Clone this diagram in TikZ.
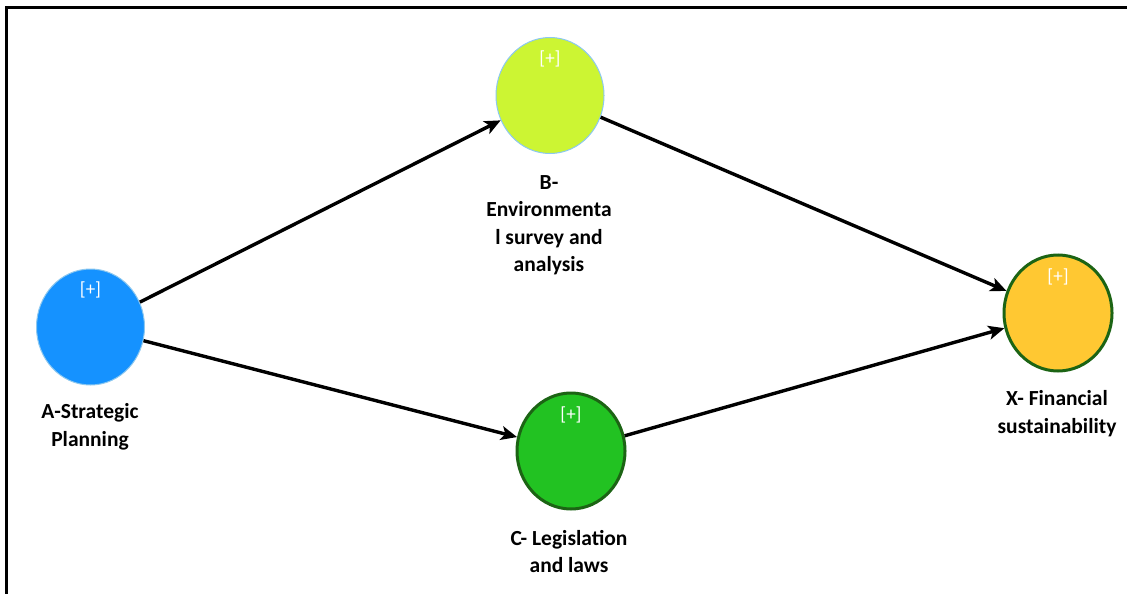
\documentclass[tikz,border=0pt]{standalone}
\usepackage{fontspec}
\setmainfont{Carlito}
\usetikzlibrary{shapes.geometric,arrows.meta}
\definecolor{cA}{RGB}{21,146,255}
\definecolor{cB}{RGB}{204,245,51}
\definecolor{cC}{RGB}{34,194,34}
\definecolor{cX}{RGB}{255,200,50}
\definecolor{edgeLight}{RGB}{140,200,240}
\definecolor{edgeDark}{RGB}{28,100,20}
\begin{document}
\begin{tikzpicture}[x=1pt,y=-1pt,
  latent/.style={ellipse, minimum width=108pt, minimum height=116pt, inner sep=0pt},
  lightedge/.style={draw=edgeLight, line width=1pt},
  darkedge/.style={draw=edgeDark, line width=3pt},
  plus/.style={text=white, font=\fontsize{19}{21}\selectfont},
  lbl/.style={align=center, font=\bfseries\fontsize{21.5}{27.5}\selectfont},
  conn/.style={line width=3.4pt, -{Stealth[length=16pt,width=14pt,inset=4pt]}}]
\useasboundingbox (0,0) rectangle (1127,594);
\fill[white] (0,0) rectangle (1127,594);
\draw[line width=2.5pt] (6.5,594) -- (6.5,7.5) -- (1130,7.5);
% nodes
\node[latent, lightedge, fill=cA] (A) at (90.5,327) {};
\node[latent, lightedge, fill=cB] (B) at (550,95.5) {};
\node[latent, darkedge, fill=cC] (C) at (571,451) {};
\node[latent, darkedge, fill=cX] (X) at (1058,313) {};
\node[plus] (pA) at (90.5,290) {[+]};
\node[plus] (pB) at (550,59) {[+]};
\node[plus] (pC) at (571,415) {[+]};
\node[plus] (pX) at (1058,277) {[+]};
% labels
\node[lbl] (lA) at (90,427) {A-Strategic\\Planning};
\node[lbl] (lB) at (549,225) {B-\\Environmenta\\l survey and\\analysis};
\node[lbl] (lC) at (569,551.5) {C- Legislation\\and laws};
\node[lbl] (lX) at (1057,413.5) {X- Financial\\sustainability};
% connectors
\draw[conn] (A) -- (B);
\draw[conn] (A) -- (C);
\draw[conn] (B) -- (X);
\draw[conn] (C) -- (X);
\end{tikzpicture}
\end{document}
